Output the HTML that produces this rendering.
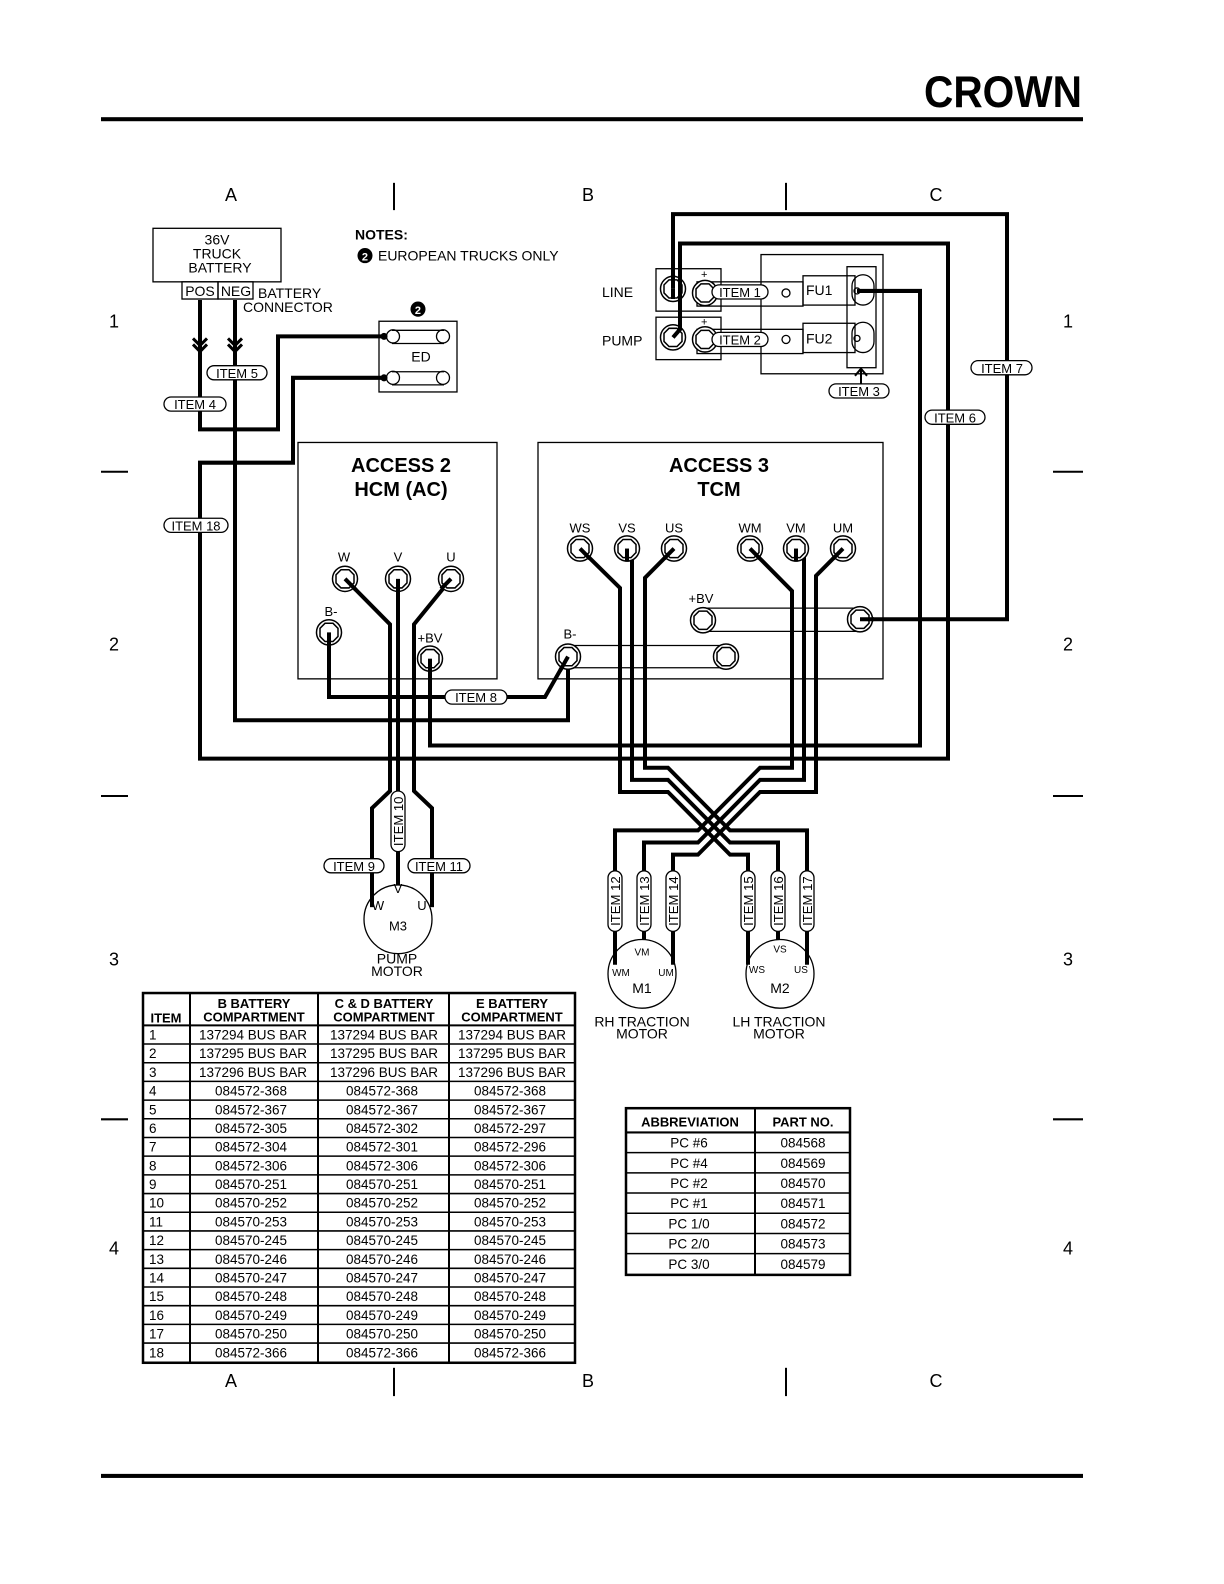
<!DOCTYPE html>
<html><head><meta charset="utf-8"><style>
html,body{margin:0;padding:0;background:#fff;}
svg{display:block;font-family:"Liberation Sans",Arial,sans-serif;}
.w{fill:none;stroke:#000;stroke-width:4;stroke-linejoin:miter;}
.t{fill:none;stroke:#000;stroke-width:1.3;}
.lb{font-size:13px;}
</style></head><body>
<svg width="1224" height="1584" viewBox="0 0 1224 1568" preserveAspectRatio="none" xmlns="http://www.w3.org/2000/svg">
<defs>
<g id="term"><circle r="12.5" fill="#fff" stroke="#000" stroke-width="1.5"/><polygon points="-4,-9 4,-9 9,-4 9,4 4,9 -4,9 -9,4 -9,-4" fill="none" stroke="#000" stroke-width="1.5"/></g>
</defs>
<!-- header -->
<text x="1003" y="106" font-size="44" font-weight="bold" text-anchor="middle" textLength="158" lengthAdjust="spacingAndGlyphs" font-family="Liberation Sans, sans-serif">CROWN</text>
<rect x="101" y="116" width="982" height="4" fill="#000"/>
<rect x="101" y="1459" width="982" height="4" fill="#000"/>
<!-- grid markers -->
<g font-size="18" text-anchor="middle">
<text x="231" y="199">A</text><text x="588" y="199">B</text><text x="936" y="199">C</text>
<text x="231" y="1373">A</text><text x="588" y="1373">B</text><text x="936" y="1373">C</text>
<text x="114" y="324">1</text><text x="1068" y="324">1</text>
<text x="114" y="644">2</text><text x="1068" y="644">2</text>
<text x="114" y="956">3</text><text x="1068" y="956">3</text>
<text x="114" y="1242">4</text><text x="1068" y="1242">4</text>
</g>
<g stroke="#000" stroke-width="2">
<line x1="394" y1="181" x2="394" y2="208"/><line x1="786" y1="181" x2="786" y2="208"/>
<line x1="394" y1="1354" x2="394" y2="1382"/><line x1="786" y1="1354" x2="786" y2="1382"/>
<line x1="101" y1="467" x2="128" y2="467"/><line x1="1053" y1="467" x2="1083" y2="467"/>
<line x1="101" y1="788" x2="128" y2="788"/><line x1="1053" y1="788" x2="1083" y2="788"/>
<line x1="101" y1="1108" x2="128" y2="1108"/><line x1="1053" y1="1108" x2="1083" y2="1108"/>
</g>
<!-- battery -->
<rect x="153" y="226" width="128" height="53" class="t"/>
<g font-size="14" text-anchor="middle"><text x="217" y="242">36V</text><text x="217" y="256">TRUCK</text><text x="220" y="270">BATTERY</text></g>
<rect x="182" y="279" width="36" height="17" class="t"/><rect x="218" y="279" width="35" height="17" class="t"/>
<text x="200" y="293" font-size="14" text-anchor="middle">POS</text><text x="236" y="293" font-size="14" text-anchor="middle">NEG</text>
<text x="258" y="295" font-size="14">BATTERY</text><text x="243" y="309" font-size="14">CONNECTOR</text>
<text x="355" y="237" font-size="14" font-weight="bold">NOTES:</text>
<circle cx="365" cy="253" r="7.5" fill="#000"/><text x="365" y="258" font-size="11" font-weight="bold" fill="#fff" text-anchor="middle">2</text>
<text x="378" y="258" font-size="14">EUROPEAN TRUCKS ONLY</text>
<!-- ED -->
<rect x="379" y="318" width="78" height="70" class="t"/>
<circle cx="418" cy="306" r="7.5" fill="#000"/><text x="418" y="311" font-size="11" font-weight="bold" fill="#fff" text-anchor="middle">2</text>
<text x="421" y="358" font-size="14" text-anchor="middle">ED</text>
<g class="t"><line x1="392" y1="327" x2="444" y2="327"/><line x1="392" y1="340" x2="444" y2="340"/><circle cx="393" cy="333" r="6.5"/><circle cx="443" cy="333" r="6.5"/>
<line x1="392" y1="368" x2="444" y2="368"/><line x1="392" y1="381" x2="444" y2="381"/><circle cx="393" cy="374" r="6.5"/><circle cx="443" cy="374" r="6.5"/></g>
<circle cx="384" cy="333" r="3.5"/><circle cx="384" cy="374" r="3.5"/>
<!-- boxes -->
<rect x="298" y="438" width="199" height="234" class="t"/>
<rect x="538" y="438" width="345" height="234" class="t"/>
<g font-size="20" font-weight="bold" text-anchor="middle"><text x="401" y="467">ACCESS  2</text><text x="401" y="491">HCM (AC)</text><text x="719" y="467">ACCESS  3</text><text x="719" y="491">TCM</text></g>
<!-- fuse assembly -->
<rect x="761" y="252" width="122" height="118" class="t"/>
<rect x="656" y="266" width="65" height="42" class="t"/><rect x="656" y="314" width="65" height="42" class="t"/>
<text x="602" y="294" font-size="14">LINE</text><text x="602" y="342" font-size="14">PUMP</text>
<text x="701" y="275" font-size="11">+</text><text x="701" y="322" font-size="11">+</text>
<rect x="697" y="279" width="106" height="24" class="t"/><rect x="697" y="326" width="106" height="24" class="t"/>
<rect x="803" y="273" width="52" height="29" class="t"/><rect x="803" y="320" width="52" height="29" class="t"/>
<text x="806" y="292" font-size="14">FU1</text><text x="806" y="340" font-size="14">FU2</text>
<rect x="847" y="264" width="29" height="100" class="t"/>
<rect x="852" y="272" width="22" height="30" rx="11" class="t"/><rect x="852" y="319" width="22" height="30" rx="11" class="t"/>
<circle cx="857" cy="288" r="3" class="t"/><circle cx="857" cy="335" r="3" class="t"/>
<circle cx="786" cy="290" r="4" class="t"/><circle cx="786" cy="336" r="4" class="t"/>
<use href="#term" x="705" y="290" transform="scale(1)"/><use href="#term" x="705" y="336"/>
<use href="#term" x="673" y="286"/><use href="#term" x="673" y="334"/>
<line x1="861" y1="384" x2="861" y2="366" stroke="#000" stroke-width="2"/><polyline points="855,372 861,365 867,372" fill="none" stroke="#000" stroke-width="2"/>
<!-- HCM terminals -->
<text x="344" y="556" font-size="13" text-anchor="middle">W</text><text x="398" y="556" font-size="13" text-anchor="middle">V</text><text x="451" y="556" font-size="13" text-anchor="middle">U</text>
<text x="331" y="610" font-size="13" text-anchor="middle">B-</text><text x="430" y="636" font-size="13" text-anchor="middle">+BV</text>
<!-- TCM -->
<g font-size="13" text-anchor="middle"><text x="580" y="527">WS</text><text x="627" y="527">VS</text><text x="674" y="527">US</text><text x="750" y="527">WM</text><text x="796" y="527">VM</text><text x="843" y="527">UM</text>
<text x="701" y="597">+BV</text><text x="570" y="632">B-</text></g>
<g class="t"><line x1="703" y1="602" x2="860" y2="602"/><line x1="703" y1="625" x2="860" y2="625"/><line x1="568" y1="639" x2="726" y2="639"/><line x1="568" y1="661" x2="726" y2="661"/></g>
<!-- wires -->
<g class="w">
<polyline points="200,297 200,425 278,425 278,333 384,333"/>
<polyline points="235,297 235,713 568,713 568,650"/>
<polyline points="384,374 293,374 293,458 200,458 200,751 948,751 948,241 680,241 680,326 673,334"/>
<polyline points="860,613 1007,613 1007,212 673,212 673,286"/>
<polyline points="857,288 920,288 920,738 430,738 430,652"/>
<polyline points="329,626 329,690 545,690 568,650"/>
<polyline points="345,573 390,618 390,783 372,800 372,895"/>
<polyline points="398,573 398,878"/>
<polyline points="451,573 414,618 414,783 432,800 432,895"/>
<polyline points="580,543 620,582 620,784 668,784 730,846 748,846 748,940"/>
<polyline points="627,543 632,548 632,772 668,772 730,834 778,834 778,930"/>
<polyline points="674,543 645,572 645,760 668,760 730,822 807,822 807,950"/>
<polyline points="750,543 792,585 792,760 760,760 698,822 615,822 615,950"/>
<polyline points="796,543 804,551 804,772 760,772 698,834 644,834 644,930"/>
<polyline points="843,543 816,570 816,784 760,784 698,846 673,846 673,940"/>
</g>
<!-- chevrons -->
<g fill="none" stroke="#000" stroke-width="3"><polyline points="193,335 200,342 207,335"/><polyline points="193,341 200,348 207,341"/><polyline points="228,335 235,342 242,335"/><polyline points="228,341 235,348 242,341"/></g>
<!-- terminals drawn over wires -->
<g>
<use href="#term" x="345" y="573"/><use href="#term" x="398" y="573"/><use href="#term" x="451" y="573"/><use href="#term" x="329" y="626"/><use href="#term" x="430" y="652"/>
<use href="#term" x="580" y="543"/><use href="#term" x="627" y="543"/><use href="#term" x="674" y="543"/><use href="#term" x="750" y="543"/><use href="#term" x="796" y="543"/><use href="#term" x="843" y="543"/>
<use href="#term" x="703" y="614"/><use href="#term" x="860" y="613"/><use href="#term" x="568" y="650"/><use href="#term" x="726" y="650"/>
</g>
<g class="w"><line x1="345" y1="573" x2="356" y2="584"/><line x1="398" y1="573" x2="398" y2="586"/><line x1="451" y1="573" x2="441" y2="583"/><line x1="329" y1="626" x2="329" y2="640"/><line x1="430" y1="652" x2="430" y2="666"/>
<line x1="580" y1="543" x2="590" y2="553"/><line x1="627" y1="543" x2="627" y2="556"/><line x1="674" y1="543" x2="664" y2="553"/><line x1="750" y1="543" x2="760" y2="553"/><line x1="796" y1="543" x2="796" y2="556"/><line x1="843" y1="543" x2="833" y2="553"/>
<line x1="860" y1="613" x2="874" y2="613"/><line x1="568" y1="650" x2="560" y2="664"/><line x1="673" y1="286" x2="673" y2="296"/></g>
<!-- motors -->
<g class="t"><circle cx="398" cy="910" r="34" fill="#fff"/><circle cx="642" cy="964" r="34" fill="#fff"/><circle cx="780" cy="964" r="34" fill="#fff"/></g>
<g class="w"><line x1="372" y1="880" x2="372" y2="898"/><line x1="432" y1="880" x2="432" y2="898"/><line x1="615" y1="930" x2="615" y2="955"/><line x1="673" y1="930" x2="673" y2="955"/><line x1="748" y1="930" x2="748" y2="955"/><line x1="807" y1="930" x2="807" y2="955"/></g>
<g text-anchor="middle">
<text x="398" y="884" font-size="13">V</text><text x="378" y="901" font-size="13">W</text><text x="422" y="901" font-size="13">U</text><text x="398" y="921" font-size="13">M3</text>
<text x="397" y="954" font-size="14">PUMP</text><text x="397" y="966" font-size="14">MOTOR</text>
<text x="642" y="946" font-size="10">VM</text><text x="621" y="966" font-size="10">WM</text><text x="666" y="966" font-size="10">UM</text><text x="642" y="983" font-size="14">M1</text>
<text x="780" y="943" font-size="10">VS</text><text x="757" y="963" font-size="10">WS</text><text x="801" y="963" font-size="10">US</text><text x="780" y="983" font-size="14">M2</text>
<text x="642" y="1016" font-size="14">RH TRACTION</text><text x="642" y="1028" font-size="14">MOTOR</text>
<text x="779" y="1016" font-size="14">LH TRACTION</text><text x="779" y="1028" font-size="14">MOTOR</text>
</g>
<!-- item labels -->
<g font-size="13" text-anchor="middle">
<rect x="207" y="362" width="60" height="14" rx="7" fill="#fff" stroke="#000" stroke-width="1.3"/><text x="237" y="374">ITEM 5</text>
<rect x="164" y="393" width="62" height="14" rx="7" fill="#fff" stroke="#000" stroke-width="1.3"/><text x="195" y="405">ITEM 4</text>
<rect x="164" y="513" width="64" height="14" rx="7" fill="#fff" stroke="#000" stroke-width="1.3"/><text x="196" y="525">ITEM 18</text>
<rect x="712" y="282" width="56" height="14" rx="7" fill="#fff" stroke="#000" stroke-width="1.3"/><text x="740" y="294">ITEM 1</text>
<rect x="712" y="329" width="56" height="14" rx="7" fill="#fff" stroke="#000" stroke-width="1.3"/><text x="740" y="341">ITEM 2</text>
<rect x="829" y="380" width="60" height="14" rx="7" fill="#fff" stroke="#000" stroke-width="1.3"/><text x="859" y="392">ITEM 3</text>
<rect x="971" y="357" width="61" height="14" rx="7" fill="#fff" stroke="#000" stroke-width="1.3"/><text x="1002" y="369">ITEM 7</text>
<rect x="925" y="406" width="60" height="14" rx="7" fill="#fff" stroke="#000" stroke-width="1.3"/><text x="955" y="418">ITEM 6</text>
<rect x="445" y="683" width="62" height="14" rx="7" fill="#fff" stroke="#000" stroke-width="1.3"/><text x="476" y="695">ITEM 8</text>
<rect x="324" y="850" width="60" height="14" rx="7" fill="#fff" stroke="#000" stroke-width="1.3"/><text x="354" y="862">ITEM 9</text>
<rect x="408" y="850" width="62" height="14" rx="7" fill="#fff" stroke="#000" stroke-width="1.3"/><text x="439" y="862">ITEM 11</text>
</g>
<g font-size="13" text-anchor="middle">
<g transform="translate(398,813) rotate(-90)"><rect x="-30" y="-7" width="60" height="14" rx="7" fill="#fff" stroke="#000" stroke-width="1.3"/><text x="0" y="5">ITEM 10</text></g>
<g transform="translate(615,892) rotate(-90)"><rect x="-30" y="-7" width="60" height="14" rx="7" fill="#fff" stroke="#000" stroke-width="1.3"/><text x="0" y="5">ITEM 12</text></g>
<g transform="translate(644,892) rotate(-90)"><rect x="-30" y="-7" width="60" height="14" rx="7" fill="#fff" stroke="#000" stroke-width="1.3"/><text x="0" y="5">ITEM 13</text></g>
<g transform="translate(673,892) rotate(-90)"><rect x="-30" y="-7" width="60" height="14" rx="7" fill="#fff" stroke="#000" stroke-width="1.3"/><text x="0" y="5">ITEM 14</text></g>
<g transform="translate(748,892) rotate(-90)"><rect x="-30" y="-7" width="60" height="14" rx="7" fill="#fff" stroke="#000" stroke-width="1.3"/><text x="0" y="5">ITEM 15</text></g>
<g transform="translate(778,892) rotate(-90)"><rect x="-30" y="-7" width="60" height="14" rx="7" fill="#fff" stroke="#000" stroke-width="1.3"/><text x="0" y="5">ITEM 16</text></g>
<g transform="translate(807,892) rotate(-90)"><rect x="-30" y="-7" width="60" height="14" rx="7" fill="#fff" stroke="#000" stroke-width="1.3"/><text x="0" y="5">ITEM 17</text></g>
</g>
<!-- parts table -->
<g stroke="#000" fill="none">
<rect x="143" y="983" width="432" height="366" stroke-width="2.5"/>
<line x1="190" y1="983" x2="190" y2="1349" stroke-width="2"/><line x1="318" y1="983" x2="318" y2="1349" stroke-width="2"/><line x1="449" y1="983" x2="449" y2="1349" stroke-width="2"/>
<line x1="143" y1="1015" x2="575" y2="1015" stroke-width="2"/>
</g>
<g font-size="13" font-weight="bold" text-anchor="middle">
<text x="166" y="1012">ITEM</text>
<text x="254" y="998">B BATTERY</text><text x="254" y="1011">COMPARTMENT</text>
<text x="384" y="998">C &amp; D BATTERY</text><text x="384" y="1011">COMPARTMENT</text>
<text x="512" y="998">E BATTERY</text><text x="512" y="1011">COMPARTMENT</text>
</g>
<g font-size="13.5" id="rows"></g>
<g font-size="13.5">
<line x1="143" y1="1033.5" x2="575" y2="1033.5" stroke="#000" stroke-width="1.5"/><text x="149" y="1029">1</text><text x="253" y="1029" text-anchor="middle">137294 BUS BAR</text><text x="384" y="1029" text-anchor="middle">137294 BUS BAR</text><text x="512" y="1029" text-anchor="middle">137294 BUS BAR</text>
<line x1="143" y1="1052" x2="575" y2="1052" stroke="#000" stroke-width="1.5"/><text x="149" y="1047.5">2</text><text x="253" y="1047.5" text-anchor="middle">137295 BUS BAR</text><text x="384" y="1047.5" text-anchor="middle">137295 BUS BAR</text><text x="512" y="1047.5" text-anchor="middle">137295 BUS BAR</text>
<line x1="143" y1="1070.5" x2="575" y2="1070.5" stroke="#000" stroke-width="1.5"/><text x="149" y="1066">3</text><text x="253" y="1066" text-anchor="middle">137296 BUS BAR</text><text x="384" y="1066" text-anchor="middle">137296 BUS BAR</text><text x="512" y="1066" text-anchor="middle">137296 BUS BAR</text>
<line x1="143" y1="1089" x2="575" y2="1089" stroke="#000" stroke-width="1.5"/><text x="149" y="1084.5">4</text><text x="251" y="1084.5" text-anchor="middle">084572-368</text><text x="382" y="1084.5" text-anchor="middle">084572-368</text><text x="510" y="1084.5" text-anchor="middle">084572-368</text>
<line x1="143" y1="1107.5" x2="575" y2="1107.5" stroke="#000" stroke-width="1.5"/><text x="149" y="1103">5</text><text x="251" y="1103" text-anchor="middle">084572-367</text><text x="382" y="1103" text-anchor="middle">084572-367</text><text x="510" y="1103" text-anchor="middle">084572-367</text>
<line x1="143" y1="1126" x2="575" y2="1126" stroke="#000" stroke-width="1.5"/><text x="149" y="1121.5">6</text><text x="251" y="1121.5" text-anchor="middle">084572-305</text><text x="382" y="1121.5" text-anchor="middle">084572-302</text><text x="510" y="1121.5" text-anchor="middle">084572-297</text>
<line x1="143" y1="1144.5" x2="575" y2="1144.5" stroke="#000" stroke-width="1.5"/><text x="149" y="1140">7</text><text x="251" y="1140" text-anchor="middle">084572-304</text><text x="382" y="1140" text-anchor="middle">084572-301</text><text x="510" y="1140" text-anchor="middle">084572-296</text>
<line x1="143" y1="1163" x2="575" y2="1163" stroke="#000" stroke-width="1.5"/><text x="149" y="1158.5">8</text><text x="251" y="1158.5" text-anchor="middle">084572-306</text><text x="382" y="1158.5" text-anchor="middle">084572-306</text><text x="510" y="1158.5" text-anchor="middle">084572-306</text>
<line x1="143" y1="1181.5" x2="575" y2="1181.5" stroke="#000" stroke-width="1.5"/><text x="149" y="1177">9</text><text x="251" y="1177" text-anchor="middle">084570-251</text><text x="382" y="1177" text-anchor="middle">084570-251</text><text x="510" y="1177" text-anchor="middle">084570-251</text>
<line x1="143" y1="1200" x2="575" y2="1200" stroke="#000" stroke-width="1.5"/><text x="149" y="1195.5">10</text><text x="251" y="1195.5" text-anchor="middle">084570-252</text><text x="382" y="1195.5" text-anchor="middle">084570-252</text><text x="510" y="1195.5" text-anchor="middle">084570-252</text>
<line x1="143" y1="1218.5" x2="575" y2="1218.5" stroke="#000" stroke-width="1.5"/><text x="149" y="1214">11</text><text x="251" y="1214" text-anchor="middle">084570-253</text><text x="382" y="1214" text-anchor="middle">084570-253</text><text x="510" y="1214" text-anchor="middle">084570-253</text>
<line x1="143" y1="1237" x2="575" y2="1237" stroke="#000" stroke-width="1.5"/><text x="149" y="1232.5">12</text><text x="251" y="1232.5" text-anchor="middle">084570-245</text><text x="382" y="1232.5" text-anchor="middle">084570-245</text><text x="510" y="1232.5" text-anchor="middle">084570-245</text>
<line x1="143" y1="1255.5" x2="575" y2="1255.5" stroke="#000" stroke-width="1.5"/><text x="149" y="1251">13</text><text x="251" y="1251" text-anchor="middle">084570-246</text><text x="382" y="1251" text-anchor="middle">084570-246</text><text x="510" y="1251" text-anchor="middle">084570-246</text>
<line x1="143" y1="1274" x2="575" y2="1274" stroke="#000" stroke-width="1.5"/><text x="149" y="1269.5">14</text><text x="251" y="1269.5" text-anchor="middle">084570-247</text><text x="382" y="1269.5" text-anchor="middle">084570-247</text><text x="510" y="1269.5" text-anchor="middle">084570-247</text>
<line x1="143" y1="1292.5" x2="575" y2="1292.5" stroke="#000" stroke-width="1.5"/><text x="149" y="1288">15</text><text x="251" y="1288" text-anchor="middle">084570-248</text><text x="382" y="1288" text-anchor="middle">084570-248</text><text x="510" y="1288" text-anchor="middle">084570-248</text>
<line x1="143" y1="1311" x2="575" y2="1311" stroke="#000" stroke-width="1.5"/><text x="149" y="1306.5">16</text><text x="251" y="1306.5" text-anchor="middle">084570-249</text><text x="382" y="1306.5" text-anchor="middle">084570-249</text><text x="510" y="1306.5" text-anchor="middle">084570-249</text>
<line x1="143" y1="1329.5" x2="575" y2="1329.5" stroke="#000" stroke-width="1.5"/><text x="149" y="1325">17</text><text x="251" y="1325" text-anchor="middle">084570-250</text><text x="382" y="1325" text-anchor="middle">084570-250</text><text x="510" y="1325" text-anchor="middle">084570-250</text>
<text x="149" y="1344">18</text><text x="251" y="1344" text-anchor="middle">084572-366</text><text x="382" y="1344" text-anchor="middle">084572-366</text><text x="510" y="1344" text-anchor="middle">084572-366</text>
</g>
<!-- abbreviation table -->
<g stroke="#000" fill="none">
<rect x="626" y="1097" width="224" height="165" stroke-width="2.5"/>
<line x1="755" y1="1097" x2="755" y2="1262" stroke-width="2"/>
<line x1="626" y1="1121" x2="850" y2="1121" stroke-width="2"/>
<line x1="626" y1="1141" x2="850" y2="1141" stroke-width="1.5"/><line x1="626" y1="1161" x2="850" y2="1161" stroke-width="1.5"/><line x1="626" y1="1181" x2="850" y2="1181" stroke-width="1.5"/><line x1="626" y1="1201" x2="850" y2="1201" stroke-width="1.5"/><line x1="626" y1="1221" x2="850" y2="1221" stroke-width="1.5"/><line x1="626" y1="1241" x2="850" y2="1241" stroke-width="1.5"/>
</g>
<g font-size="13" font-weight="bold" text-anchor="middle"><text x="690" y="1115">ABBREVIATION</text><text x="803" y="1115">PART NO.</text></g>
<g font-size="13.5" text-anchor="middle">
<text x="689" y="1136">PC #6</text><text x="803" y="1136">084568</text>
<text x="689" y="1156">PC #4</text><text x="803" y="1156">084569</text>
<text x="689" y="1176">PC #2</text><text x="803" y="1176">084570</text>
<text x="689" y="1196">PC #1</text><text x="803" y="1196">084571</text>
<text x="689" y="1216">PC 1/0</text><text x="803" y="1216">084572</text>
<text x="689" y="1236">PC 2/0</text><text x="803" y="1236">084573</text>
<text x="689" y="1256">PC 3/0</text><text x="803" y="1256">084579</text>
</g>
</svg>
</body></html>
